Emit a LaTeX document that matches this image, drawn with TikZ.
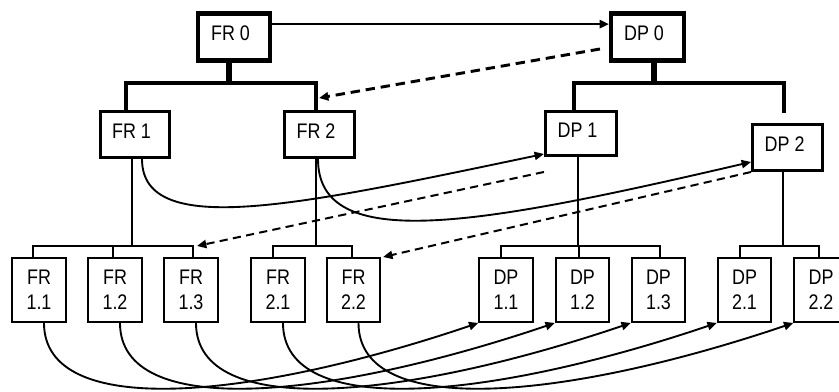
\documentclass[tikz,border=0pt]{standalone}
\usepackage{fontspec}
\setmainfont{Liberation Sans}[FakeStretch=0.85]
\usetikzlibrary{arrows.meta,calc}
\tikzset{
  boxfont/.style={font=\fontsize{18}{21.5}\selectfont},
  topbox/.style={draw, boxfont, line width=3.8pt, minimum width=61pt, minimum height=40.5pt, inner sep=0pt, text height=12.9pt, text depth=6.8pt},
  midbox/.style={draw, boxfont, line width=2.3pt, minimum width=60pt, minimum height=39.5pt, inner sep=0pt, text height=12.9pt, text depth=6.8pt},
  subbox/.style={draw, boxfont, line width=1.7pt, minimum width=45.5pt, minimum height=54.6pt, inner sep=0pt, align=center},
  stemline/.style={line width=4.5pt},
  upperline/.style={line width=2.8pt, line join=miter},
  lowerline/.style={line width=1.6pt, line join=miter},
  link/.style={line width=1.6pt, -{Triangle[length=8pt,width=7pt]}},
  dlink/.style={line width=1.7pt, dash pattern=on 7pt off 4.5pt, -{Triangle[length=8pt,width=7pt]}},
}
\begin{document}
\begin{tikzpicture}[x=0.03cm,y=-0.03cm]
\clip (0,0) rectangle (839,392);
\fill[white] (0,0) rectangle (839,392);
% top level
\node[topbox] (FR0) at (234,37) {FR 0\hspace*{6pt}};
\node[topbox, minimum width=62pt] (DP0) at (647.5,37) {DP 0\hspace*{6pt}};
% second level
\node[midbox, minimum width=59.2pt] (FR1) at (135,134.5) {FR 1\hspace*{6pt}};
\node[midbox] (FR2) at (319.5,134.5) {FR 2\hspace*{6pt}};
\node[midbox, minimum width=61pt, minimum height=37.8pt] (DP1) at (581,133.5) {DP 1\hspace*{6pt}};
\node[midbox] (DP2) at (787.5,147.5) {DP 2\hspace*{5pt}};
% third level
\node[subbox] (FR11) at (39,290) {FR\\1.1};
\node[subbox] (FR12) at (115,290) {FR\\1.2};
\node[subbox] (FR13) at (191,290) {FR\\1.3};
\node[subbox] (FR21) at (278,290) {FR\\2.1};
\node[subbox] (FR22) at (353.5,290) {FR\\2.2};
\node[subbox] (DP11) at (506,290) {DP\\1.1};
\node[subbox] (DP12) at (582.5,290) {DP\\1.2};
\node[subbox] (DP13) at (658.5,290) {DP\\1.3};
\node[subbox] (DP21) at (744.5,290) {DP\\2.1};
\node[subbox] (DP22) at (821,290) {DP\\2.2};
% junction coordinates
\coordinate (sFR0) at (229,83);
\coordinate (sDP0) at (654,83);
\coordinate (jFR1) at (126,83);
\coordinate (jFR2) at (316,83);
\coordinate (jDP1) at (574,83);
\coordinate (jDP2) at (784,83);
\coordinate (kFR1) at (132,246);
\coordinate (kFR2) at (316,246);
\coordinate (kDP1) at (578,246);
\coordinate (kDP2) at (783,246);
\coordinate (a11) at (33,246);
\coordinate (a12) at (113,246);
\coordinate (a13) at (193,246);
\coordinate (a21) at (273,246);
\coordinate (a22) at (352,246);
\coordinate (b11) at (501,246);
\coordinate (b12) at (579,246);
\coordinate (b13) at (660,246);
\coordinate (b21) at (740,246);
\coordinate (b22) at (819,246);
% upper tree
\draw[stemline] (sFR0 |- FR0.south) -- (sFR0);
\draw[stemline] (sDP0 |- DP0.south) -- (sDP0);
\draw[upperline] (jFR1 |- FR1.north) -- (jFR1) -- (jFR2) -- (jFR2 |- FR2.north);
\draw[upperline] (jDP1 |- DP1.north) -- (jDP1) -- (jDP2) -- ++(0,30);
% lower trees
\draw[lowerline] (kFR1 |- FR1.south) -- (kFR1);
\draw[lowerline] (a11 |- FR11.north) -- (a11) -- (a13) -- (a13 |- FR13.north);
\draw[lowerline] (a12) -- (a12 |- FR12.north);
\draw[lowerline] (kFR2 |- FR2.south) -- (kFR2);
\draw[lowerline] (a21 |- FR21.north) -- (a21) -- (a22) -- (a22 |- FR22.north);
\draw[lowerline] (kDP1 |- DP1.south) -- (kDP1);
\draw[lowerline] (b11 |- DP11.north) -- (b11) -- (b13) -- (b13 |- DP13.north);
\draw[lowerline] (b12) -- (b12 |- DP12.north);
\draw[lowerline] (kDP2 |- DP2.south) -- (kDP2);
\draw[lowerline] (b21 |- DP21.north) -- (b21) -- (b22) -- (b22 |- DP22.north);
% mapping arrows
\draw[link, line width=1.8pt] ([yshift=11pt]FR0.east) -- ([yshift=11pt]DP0.west);
\draw[dlink, line width=2.5pt, dash pattern=on 8pt off 5pt] ($(DP0.west)+(-9,12)$) -- ($(jFR2)+(3,15)$);
\draw[link] ($(FR1.south)+(7,0)$) .. controls ($(FR1.south)+(7,81)$) and ($(DP1.south west)+(-244,48)$) .. ($(DP1.south west)+(0,-3)$);
\draw[link] ($(FR2.south)+(-1.5,0)$) .. controls ($(FR2.south)+(-1.5,96)$) and ($(DP2.south west)+(-271,53)$) .. ($(DP2.south west)+(0,-10)$);
\draw[dlink] ($(DP1.south west)+(0,15)$) -- ($(a13)+(4,0)$);
\draw[dlink] (DP2.south west) -- ($(FR22.north east)+(2,0)$);
\foreach \a/\b in {FR11/DP11, FR12/DP12, FR13/DP13, FR21/DP21, FR22/DP22}
  \draw[link] ($(\a.south)+(5,0)$) .. controls ($(\a.south)+(5,97)$) and ($(\b.south west)+(-228,77)$) .. (\b.south west);
\end{tikzpicture}
\end{document}
